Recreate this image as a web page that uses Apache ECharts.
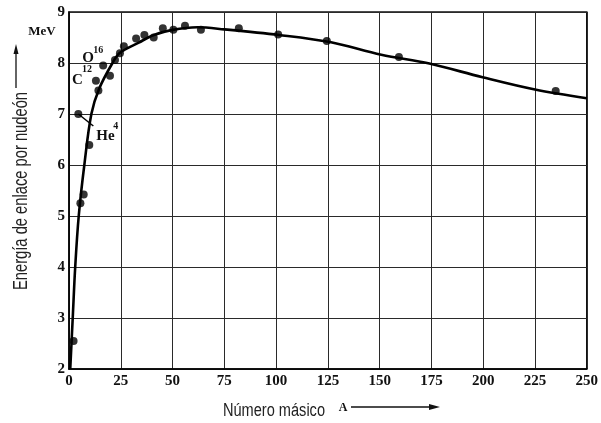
<!DOCTYPE html>
<html><head><meta charset="utf-8">
<script src="https://cdn.jsdelivr.net/npm/echarts@6/dist/echarts.min.js"></script>
<style>html,body{margin:0;padding:0;background:#fff}#c{width:601px;height:423px}</style>
</head><body><div id="c"></div><script>
// Fitted curve (mass number A, binding energy per nucleon in MeV)
const curveA = [0.6, 1.8, 3, 4.7, 7.4, 10.8, 14.6, 21, 24.6, 33.7, 41, 50, 62, 75, 101.4, 126, 150.8, 174, 199.7, 225, 250];
const curveE = [2.0, 3.0, 4.0, 5.0, 6.0, 7.0, 7.5, 8.0, 8.2, 8.4, 8.55, 8.65, 8.7, 8.66, 8.55, 8.41, 8.16, 7.99, 7.72, 7.48, 7.31];
// Measured nuclei
const pointA = [2.2, 5.5, 7.1, 9.8, 14.2, 19.8, 22.2, 24.6, 26.5, 32.4, 36.4, 40.9, 45.3, 50.4, 56, 63.7, 82, 101, 124.5, 159.3, 235];
const pointE = [2.55, 5.25, 5.42, 6.39, 7.46, 7.75, 8.06, 8.19, 8.33, 8.48, 8.55, 8.5, 8.68, 8.65, 8.73, 8.65, 8.68, 8.56, 8.43, 8.12, 7.45];
// Labelled nuclei
const labelNames = ['He', 'C', 'O'];
const labelSup = ['4', '12', '16'];
const labelA = [4.5, 13, 16.5];
const labelE = [7.0, 7.65, 7.95];
// Axis ticks
const xTicks = [0, 25, 50, 75, 100, 125, 150, 175, 200, 225, 250];
const yTicks = [2, 3, 4, 5, 6, 7, 8, 9];
const yTitle = 'Energía de enlace por nudeón';
const xTitle = 'Número másico';
const unitLabel = 'MeV';

const serif = '"Liberation Serif","DejaVu Serif",serif';
const narrow = '"Liberation Sans Narrow","Liberation Sans",Arial,sans-serif';
const sans = '"Liberation Sans",Arial,sans-serif';

const chart = echarts.init(document.getElementById('c'), null, {renderer: 'canvas'});
const curve = curveA.map((a, i) => [a, curveE[i]]);
const pts = pointA.map((a, i) => [a, pointE[i]]).concat(labelA.map((a, i) => [a, labelE[i]]));

chart.setOption({
  animation: false,
  grid: {left: 69, right: 9, top: 12, bottom: 54, show: true, borderColor: '#111', borderWidth: 1.5},
  xAxis: {
    type: 'value', min: xTicks[0], max: xTicks[xTicks.length - 1], interval: 25,
    axisLine: {lineStyle: {color: '#000', width: 1.5}}, axisTick: {show: false},
    axisLabel: {fontFamily: serif, fontWeight: 'bold', fontSize: 15, color: '#111', margin: 5},
    splitLine: {lineStyle: {color: '#2a2a2a', width: 1}}
  },
  yAxis: {
    type: 'value', min: yTicks[0], max: yTicks[yTicks.length - 1], interval: 1,
    axisLine: {show: true, lineStyle: {color: '#000', width: 1.5}}, axisTick: {show: false},
    axisLabel: {fontFamily: serif, fontWeight: 'bold', fontSize: 15, color: '#111', margin: 4},
    splitLine: {lineStyle: {color: '#2a2a2a', width: 1}}
  },
  series: [
    {type: 'line', data: curve, smooth: 0.35, showSymbol: false, lineStyle: {color: '#000', width: 2.6}, z: 3},
    {type: 'scatter', data: pts, symbolSize: 8, itemStyle: {color: '#000'}, z: 4}
  ]
});

function measure(text, font) {
  const c = document.createElement('canvas').getContext('2d');
  c.font = font;
  return c.measureText(text).width;
}

const g = [];
// label positions relative to their data points
const P = labelA.map((a, i) => chart.convertToPixel({gridIndex: 0}, [a, labelE[i]]));
const lblFont = 'bold 15px ' + serif;
// He4: leader line and label lower right
g.push({type: 'line', shape: {x1: P[0][0], y1: P[0][1], x2: P[0][0] + 15, y2: P[0][1] + 12}, style: {stroke: '#000', lineWidth: 1.5}});
g.push({type: 'text', x: P[0][0] + 18, y: P[0][1] + 22, style: {text: labelNames[0], font: lblFont, fill: '#111', textVerticalAlign: 'middle'}});
g.push({type: 'text', x: P[0][0] + 35, y: P[0][1] + 12, style: {text: labelSup[0], font: 'bold 10px ' + serif, fill: '#111', textVerticalAlign: 'middle'}});
// C12
g.push({type: 'text', x: P[1][0] - 24, y: P[1][1] - 1, style: {text: labelNames[1], font: lblFont, fill: '#111', textVerticalAlign: 'middle'}});
g.push({type: 'text', x: P[1][0] - 14, y: P[1][1] - 11, style: {text: labelSup[1], font: 'bold 10px ' + serif, fill: '#111', textVerticalAlign: 'middle'}});
// O16
g.push({type: 'text', x: P[2][0] - 21, y: P[2][1] - 7, style: {text: labelNames[2], font: lblFont, fill: '#111', textVerticalAlign: 'middle'}});
g.push({type: 'text', x: P[2][0] - 10, y: P[2][1] - 15, style: {text: labelSup[2], font: 'bold 10px ' + serif, fill: '#111', textVerticalAlign: 'middle'}});
// MeV unit
g.push({type: 'text', x: 42, y: 32, style: {text: unitLabel, font: 'bold 13px ' + serif, fill: '#111', textAlign: 'center', textVerticalAlign: 'middle'}});

// Y title (rotated, condensed)
const yFont = '20px ' + narrow;
const yScale = 198 / measure(yTitle, yFont);
g.push({type: 'text', x: 21, y: 191, rotation: Math.PI / 2, scaleX: yScale, scaleY: 1,
  style: {text: yTitle, font: yFont, fill: '#222', textAlign: 'center', textVerticalAlign: 'middle'}});
// Y arrow
g.push({type: 'line', shape: {x1: 16, y1: 88, x2: 16, y2: 50}, style: {stroke: '#111', lineWidth: 1.3}});
g.push({type: 'polygon', shape: {points: [[16, 44], [13.5, 54], [18.5, 54]]}, style: {fill: '#111'}});

// X title
const xFont = '18px ' + sans;
const xScale = 102 / measure(xTitle, xFont);
g.push({type: 'text', x: 223, y: 411, scaleX: xScale, scaleY: 1,
  style: {text: xTitle, font: xFont, fill: '#222', textVerticalAlign: 'middle'}});
g.push({type: 'text', x: 343, y: 408, style: {text: 'A', font: 'bold 12px ' + serif, fill: '#111', textAlign: 'center', textVerticalAlign: 'middle'}});
g.push({type: 'line', shape: {x1: 351, y1: 407, x2: 432, y2: 407}, style: {stroke: '#111', lineWidth: 1.3}});
g.push({type: 'polygon', shape: {points: [[440, 407], [429, 404], [429, 410]]}, style: {fill: '#111'}});

chart.setOption({graphic: {elements: g}});
</script></body></html>
